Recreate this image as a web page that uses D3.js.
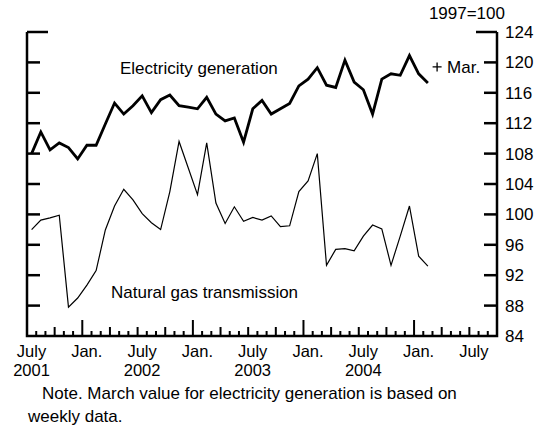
<!DOCTYPE html>
<html>
<head>
<meta charset="utf-8">
<script src="https://cdn.jsdelivr.net/npm/d3@7"></script>
<style>
  body { margin: 0; background: #fff; }
  svg { display: block; font-family: "Liberation Sans", Arial, sans-serif; }
</style>
</head>
<body>
<div id="chart"></div>
<script>
// monthly index values, July 2001 .. Feb. 2005 (1997=100)
const electricity = [108.0, 110.85, 108.5, 109.4, 108.8, 107.3, 109.1, 109.1, 111.9, 114.65, 113.2, 114.3,
  115.6, 113.4, 115.1, 115.7, 114.3, 114.1, 113.9, 115.4, 113.2, 112.3, 112.7, 109.5,
  113.9, 115.0, 113.2, 113.9, 114.6, 116.9, 117.8, 119.3, 117.0, 116.7, 120.3, 117.4,
  116.4, 113.2, 117.8, 118.5, 118.3, 120.9, 118.5, 117.3];
const natGas = [98.0, 99.25, 99.55, 99.9, 87.8, 89.0, 90.7, 92.6, 97.95, 101.1, 103.3, 101.9,
  100.1, 98.9, 98.0, 103.0, 109.6, 106.1, 102.6, 109.4, 101.5, 98.8, 101.0, 99.1,
  99.6, 99.25, 99.8, 98.4, 98.5, 103.0, 104.4, 108.0, 93.3, 95.4, 95.5, 95.2,
  97.15, 98.6, 98.1, 93.3, 97.15, 101.1, 94.5, 93.2];
// March 2005 electricity value from weekly data (the "+")
const marchPoint = { month: 44, value: 119.4 };

const yTicks = [84, 88, 92, 96, 100, 104, 108, 112, 116, 120, 124];
const xLabels = [
  { month: 0, top: "July", bottom: "2001" },
  { month: 6, top: "Jan.", bottom: "" },
  { month: 12, top: "July", bottom: "2002" },
  { month: 18, top: "Jan.", bottom: "" },
  { month: 24, top: "July", bottom: "2003" },
  { month: 30, top: "Jan.", bottom: "" },
  { month: 36, top: "July", bottom: "2004" },
  { month: 42, top: "Jan.", bottom: "" },
  { month: 48, top: "July", bottom: "" }
];
const nMonths = 51; // July 2001 .. Oct. 2005

const width = 542, height = 427;
const plotL = 27, plotR = 497, plotT = 32, plotB = 336;
const fs = 17;

const svg = d3.select('#chart').append('svg')
  .attr('width', width).attr('height', height);

const x = d3.scaleLinear().domain([0, nMonths]).range([plotL, plotR]);
const y = d3.scaleLinear().domain([84, 124]).range([plotB, plotT]);

// frame: two verticals and the bottom line
svg.append('path')
  .attr('d', `M${plotL},${plotT}V${plotB}H${plotR}V${plotT}`)
  .attr('fill', 'none').attr('stroke', '#000').attr('stroke-width', 2.5)
  .attr('stroke-linejoin', 'miter');

// y ticks, both sides, pointing in
const yt = svg.append('g').attr('stroke', '#000').attr('stroke-width', 2.5);
yTicks.filter(d => d > 84).forEach(d => {
  const len = d === 124 ? 21 : 13;
  yt.append('line').attr('x1', plotL).attr('x2', plotL + len).attr('y1', y(d)).attr('y2', y(d));
  yt.append('line').attr('x1', plotR).attr('x2', plotR - len).attr('y1', y(d)).attr('y2', y(d));
});
svg.append('g').selectAll('text').data(yTicks).join('text')
  .attr('x', plotR + 8).attr('y', d => y(d) + 6)
  .attr('font-size', fs).text(d => d);
svg.append('text').attr('x', plotR + 8).attr('y', 19)
  .attr('text-anchor', 'end').attr('font-size', fs).text('1997=100');

// month ticks on the bottom line
const xt = svg.append('g').attr('stroke', '#000').attr('stroke-width', 2);
d3.range(1, nMonths).forEach(m => {
  const h = (m % 12 === 6) ? 16 : (m % 3 === 0 ? 9 : 5);
  xt.append('line').attr('x1', x(m)).attr('x2', x(m)).attr('y1', plotB).attr('y2', plotB - h);
});
const xl = svg.append('g').attr('font-size', 16.5).attr('text-anchor', 'middle');
xLabels.forEach(d => {
  xl.append('text').attr('x', x(d.month) + 4.5).attr('y', 357).text(d.top);
  if (d.bottom) xl.append('text').attr('x', x(d.month) + 4.5).attr('y', 376).text(d.bottom);
});

// series (points at mid-month)
const line = d3.line().x((d, i) => x(i + 0.5)).y(d => y(d));
svg.append('path').datum(natGas).attr('d', line)
  .attr('fill', 'none').attr('stroke', '#000').attr('stroke-width', 1.2);
svg.append('path').datum(electricity).attr('d', line)
  .attr('fill', 'none').attr('stroke', '#000').attr('stroke-width', 2.8)
  .attr('stroke-linejoin', 'miter');

// "+" for March
const mx = x(marchPoint.month + 0.5), my = y(marchPoint.value);
svg.append('path').attr('d', `M${mx - 4.5},${my}H${mx + 4.5}M${mx},${my - 4.5}V${my + 4.5}`)
  .attr('stroke', '#000').attr('stroke-width', 1.3);
svg.append('text').attr('x', mx + 10).attr('y', my + 6).attr('font-size', fs).text('Mar.');

// series labels
svg.append('text').attr('x', 120).attr('y', 74).attr('font-size', fs).text('Electricity generation');
svg.append('text').attr('x', 111).attr('y', 298).attr('font-size', fs).text('Natural gas transmission');

// note
svg.append('text').attr('x', 42).attr('y', 399).attr('font-size', fs)
  .text('Note. March value for electricity generation is based on');
svg.append('text').attr('x', 28).attr('y', 422).attr('font-size', fs).text('weekly data.');
</script>
</body>
</html>
